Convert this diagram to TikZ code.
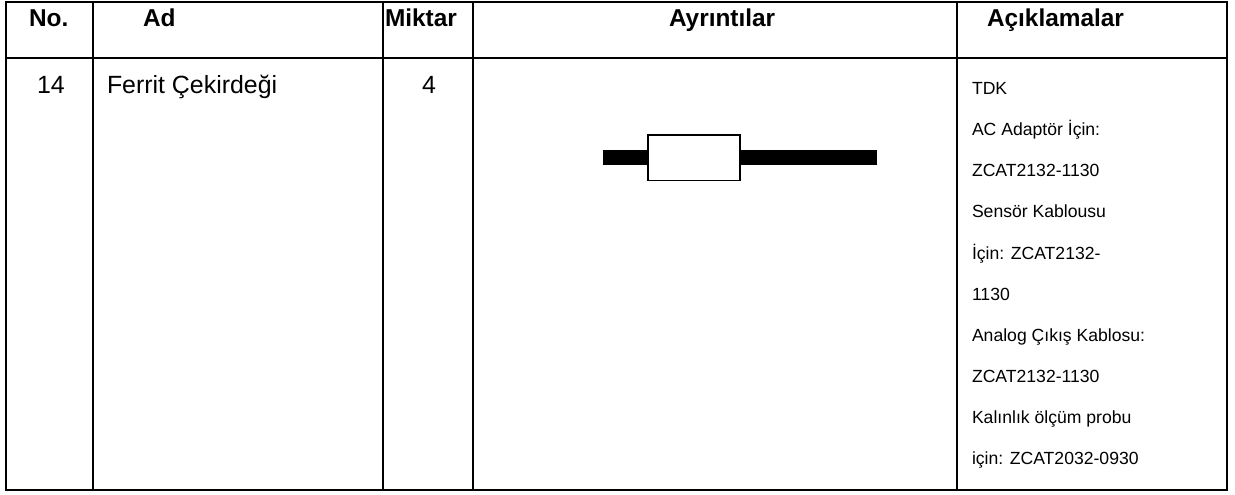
\documentclass[tikz,border=0pt]{standalone}
\usepackage{fontspec}
\setmainfont{Liberation Sans}
\tikzset{
  px/.style={x=1pt,y=-1pt},
  rule/.style={draw=black,line width=2pt,line cap=rect},
  head/.style={anchor=base west,inner sep=0pt,outer sep=0pt,font=\fontsize{24.4}{24.4}\selectfont\bfseries,text=black},
  body/.style={anchor=base west,inner sep=0pt,outer sep=0pt,font=\fontsize{24.9}{24.9}\selectfont,text=black},
  note/.style={anchor=base west,inner sep=0pt,outer sep=0pt,font=\fontsize{17.6}{17.6}\selectfont,text=black},
  cable/.style={fill=black,draw=none},
  core/.style={fill=white,draw=black,line width=1.3pt},
}
\begin{document}
\begin{tikzpicture}[px]
\useasboundingbox (0,0) rectangle (1235,495);
% table grid
\draw[rule] (6,2.5) rectangle (1226.5,489.5);
\draw[rule] (6,58) -- (1226.5,58);
\foreach \cx in {93,383,473,957} \draw[rule] (\cx,2.5) -- (\cx,489.5);
% header
\node[head] (hno) at (29,26.5) {No.};
\node[head] (had) at (143,26.5) {Ad};
\node[head] (hmik) at (385,26.5) {Miktar};
\node[head] (hayr) at (669,26.5) {Ayrıntılar};
\node[head] (hack) at (987,26.5) {Açıklamalar};
% row
\node[body] (no) at (37,93) {14};
\node[body] (name) at (107,93) {Ferrit Çekirdeği};
\node[body] (qty) at (422,93) {4};
% ferrite core
\path[cable] (603,150) rectangle (877,165);
\path[core] (648,135) rectangle (740,180.5);
% notes
\node[note] (n1) at (972,95) {TDK};
\node[note] (n2) at (972,135.5) {AC Adaptör İçin:};
\node[note] (n3) at (972,176) {ZCAT2132-1130};
\node[note] (n4) at (972,217) {Sensör Kablousu};
\node[note] (n5) at (972,259) {İçin: ZCAT2132-};
\node[note] (n6) at (972,300.5) {1130};
\node[note] (n7) at (972,341) {Analog Çıkış Kablosu:};
\node[note] (n8) at (972,382) {ZCAT2132-1130};
\node[note] (n9) at (972,423) {Kalınlık ölçüm probu};
\node[note] (n10) at (972,464) {için: ZCAT2032-0930};
\end{tikzpicture}
\end{document}
